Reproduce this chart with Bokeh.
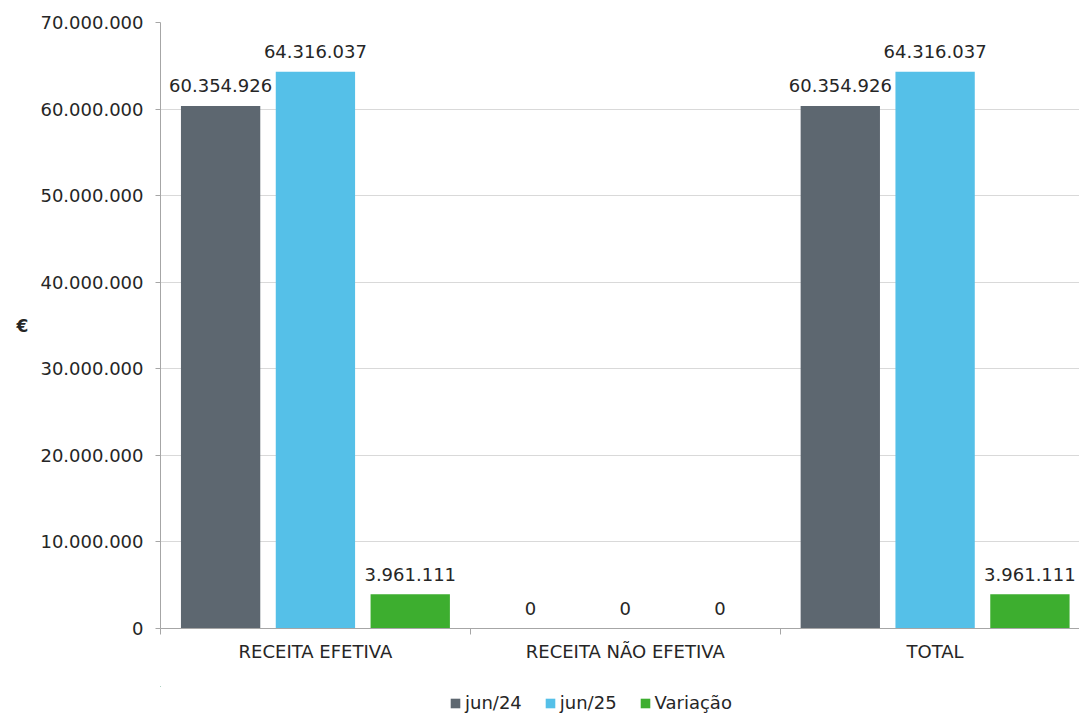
from bokeh.plotting import figure
from bokeh.layouts import column
from bokeh.models import (ColumnDataSource, Range1d, FixedTicker, Legend, LegendItem)
from bokeh.transform import dodge
from bokeh.core.properties import value
from bokeh.embed import file_html
from bokeh.resources import INLINE

# ---- data ----
categories = ["RECEITA EFETIVA", "RECEITA NÃO EFETIVA", "TOTAL"]
series_names = ["jun/24", "jun/25", "Variação"]
jun24 = [60354926, 0, 60354926]
jun25 = [64316037, 0, 64316037]
variacao = [3961111, 0, 3961111]
y_ticks = [0, 10000000, 20000000, 30000000, 40000000, 50000000, 60000000, 70000000]
y_axis_label = "€"

colors = ["#5D6770", "#55C0E8", "#3DAE2F"]
FONT = "DejaVu Sans"
FS = "18px"
TXT = "#262626"


def fmt(v):
    return f"{v:,}".replace(",", ".")


xs = [i + 0.5 for i in range(len(categories))]
src = ColumnDataSource(dict(
    x=xs,
    s0=jun24, s1=jun25, s2=variacao,
    l0=[fmt(v) for v in jun24], l1=[fmt(v) for v in jun25], l2=[fmt(v) for v in variacao],
))

p = figure(width=1079, height=686, output_backend="svg", toolbar_location=None,
           x_range=Range1d(0, 2.966), y_range=Range1d(0, 70000000),
           min_border_left=160, min_border_top=22, min_border_right=0, min_border_bottom=58)
p.outline_line_color = None
p.background_fill_color = "white"
p.border_fill_color = "white"

offsets = [-0.306, 0.0, 0.306]
for k in range(3):
    p.vbar(x=dodge("x", offsets[k], range=p.x_range), top=f"s{k}", width=0.256,
           source=src, fill_color=colors[k], line_color=None)
    p.text(x=dodge("x", offsets[k], range=p.x_range), y=f"s{k}", text=f"l{k}", source=src,
           text_align="center", text_baseline="middle", y_offset=-20,
           text_font=value(FONT), text_font_size=FS, text_color=TXT)

# grid
p.xgrid.grid_line_color = None
p.ygrid.grid_line_color = "#D9D9D9"
p.ygrid.grid_line_width = 1

# y axis
p.yaxis.ticker = FixedTicker(ticks=y_ticks)
p.yaxis.major_label_overrides = {t: fmt(t) for t in y_ticks}
p.yaxis.axis_line_color = "#A6A6A6"
p.yaxis.major_tick_line_color = "#A6A6A6"
p.yaxis.major_tick_out = 5
p.yaxis.major_tick_in = 0
p.yaxis.minor_tick_line_color = None
p.yaxis.major_label_standoff = 12
p.yaxis.major_label_text_font = FONT
p.yaxis.major_label_text_font_size = FS
p.yaxis.major_label_text_color = TXT
p.yaxis.axis_label = y_axis_label
p.yaxis.axis_label_orientation = "horizontal"
p.yaxis.axis_label_text_font = FONT
p.yaxis.axis_label_text_font_style = "bold"
p.yaxis.axis_label_text_font_size = "17px"
p.yaxis.axis_label_text_color = TXT
p.yaxis.axis_label_standoff = 9

# x axis: labels at category centres, ticks at category boundaries
p.xaxis.ticker = FixedTicker(ticks=xs, minor_ticks=list(range(len(categories) + 1)))
p.xaxis.major_label_overrides = {x: c for x, c in zip(xs, categories)}
p.xaxis.axis_line_color = "#A6A6A6"
p.xaxis.major_tick_line_color = None
p.xaxis.major_tick_out = 6
p.xaxis.major_tick_in = 0
p.xaxis.minor_tick_line_color = "#A6A6A6"
p.xaxis.minor_tick_out = 6
p.xaxis.minor_tick_in = 0
p.xaxis.major_label_standoff = 6
p.xaxis.major_label_text_font = FONT
p.xaxis.major_label_text_font_size = FS
p.xaxis.major_label_text_color = TXT

# ---- legend strip below the chart (its bars lie wholly outside its visible ranges) ----
lg = figure(width=1079, height=27, output_backend="svg", toolbar_location=None,
            x_range=Range1d(100, 101), y_range=Range1d(-2, -1),
            min_border_left=0, min_border_right=0, min_border_top=0, min_border_bottom=0)
lg.axis.visible = False
lg.grid.visible = False
lg.outline_line_color = None
lg.border_fill_color = "white"
items = []
for k in range(3):
    r = lg.vbar(x="x", top=f"s{k}", width=0.256, source=src,
                fill_color=colors[k], line_color=None)
    items.append(LegendItem(label=series_names[k], renderers=[r]))
legend = Legend(items=items, orientation="horizontal", location=(289, 0),
                glyph_width=12, glyph_height=12, label_standoff=4, spacing=22,
                label_height=20, label_text_font=FONT, label_text_font_size=FS,
                label_text_color=TXT, padding=0, margin=0,
                border_line_color=None, background_fill_alpha=0)
lg.add_layout(legend, "center")

layout = column(p, lg, spacing=0)
open("out.html", "w").write(file_html(layout, INLINE))
